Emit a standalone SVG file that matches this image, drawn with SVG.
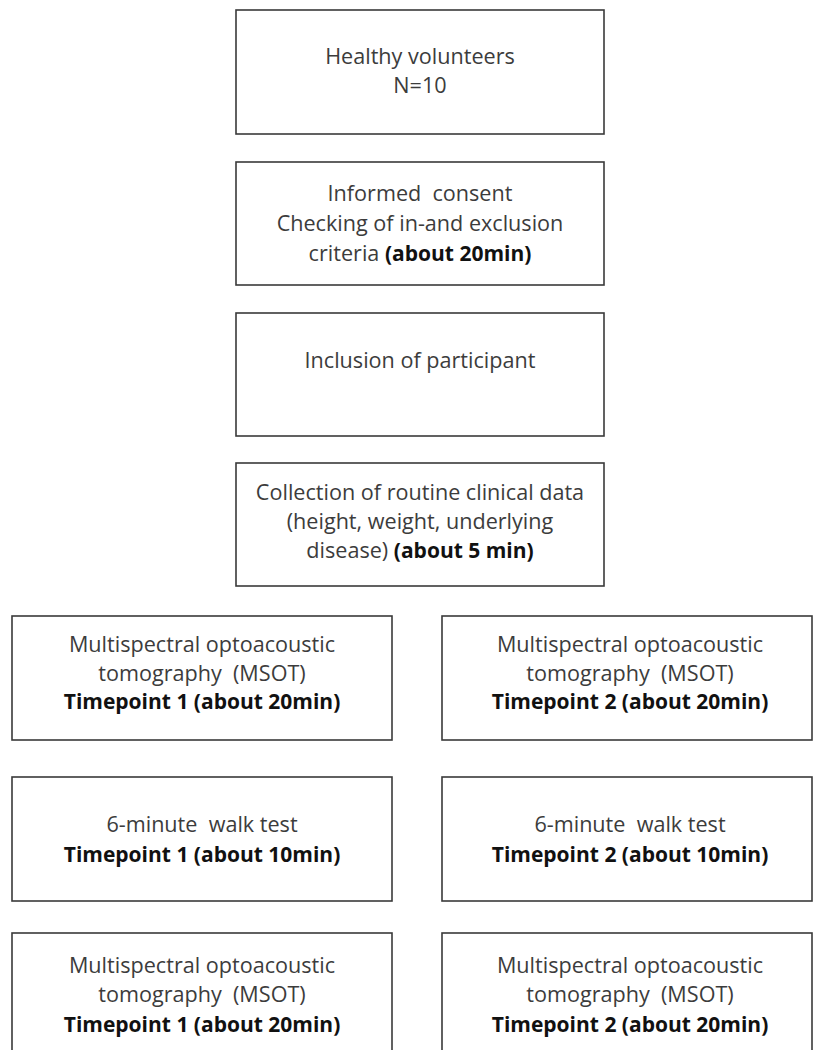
<svg xmlns="http://www.w3.org/2000/svg" width="813" height="1050" viewBox="0 0 813 1050">
<style>
.box{fill:#fff;stroke:#3a3a3a;stroke-width:1.6}
.t{font-family:"Open Sans","Liberation Sans",sans-serif;font-size:21.6px;fill:#3c3c3c;text-anchor:middle;white-space:pre}
.b{font-weight:bold;fill:#111;font-size:21px}
</style>
<rect width="813" height="1050" fill="#fff"/>
<g id="connectors"></g>
<g id="n1">
<rect class="box" x="236" y="10" width="368" height="124"/>
<text class="t" x="420" y="64">Healthy volunteers</text>
<text class="t" x="420" y="93">N=10</text>
</g>
<g id="n2">
<rect class="box" x="236" y="162" width="368" height="123"/>
<text class="t" x="420" y="201">Informed  consent</text>
<text class="t" x="420" y="231">Checking of in-and exclusion</text>
<text class="t" x="420" y="261">criteria <tspan class="b">(about 20min)</tspan></text>
</g>
<g id="n3">
<rect class="box" x="236" y="313" width="368" height="123"/>
<text class="t" x="420" y="368">Inclusion of participant</text>
</g>
<g id="n4">
<rect class="box" x="236" y="463" width="368" height="123"/>
<text class="t" x="420" y="500">Collection of routine clinical data</text>
<text class="t" x="420" y="529">(height, weight, underlying</text>
<text class="t" x="420" y="558">disease) <tspan class="b">(about 5 min)</tspan></text>
</g>
<g id="n5">
<rect class="box" x="12" y="616" width="380" height="124"/>
<text class="t" x="202" y="652">Multispectral optoacoustic</text>
<text class="t" x="202" y="681">tomography  (MSOT)</text>
<text class="t b" x="202" y="709">Timepoint 1 (about 20min)</text>
</g>
<g id="n6">
<rect class="box" x="442" y="616" width="370" height="124"/>
<text class="t" x="630" y="652">Multispectral optoacoustic</text>
<text class="t" x="630" y="681">tomography  (MSOT)</text>
<text class="t b" x="630" y="709">Timepoint 2 (about 20min)</text>
</g>
<g id="n7">
<rect class="box" x="12" y="777" width="380" height="124"/>
<text class="t" x="202" y="832">6-minute  walk test</text>
<text class="t b" x="202" y="862">Timepoint 1 (about 10min)</text>
</g>
<g id="n8">
<rect class="box" x="442" y="777" width="370" height="124"/>
<text class="t" x="630" y="832">6-minute  walk test</text>
<text class="t b" x="630" y="862">Timepoint 2 (about 10min)</text>
</g>
<g id="n9">
<rect class="box" x="12" y="933" width="380" height="140"/>
<text class="t" x="202" y="973">Multispectral optoacoustic</text>
<text class="t" x="202" y="1002">tomography  (MSOT)</text>
<text class="t b" x="202" y="1032">Timepoint 1 (about 20min)</text>
</g>
<g id="n10">
<rect class="box" x="442" y="933" width="370" height="140"/>
<text class="t" x="630" y="973">Multispectral optoacoustic</text>
<text class="t" x="630" y="1002">tomography  (MSOT)</text>
<text class="t b" x="630" y="1032">Timepoint 2 (about 20min)</text>
</g>
</svg>
